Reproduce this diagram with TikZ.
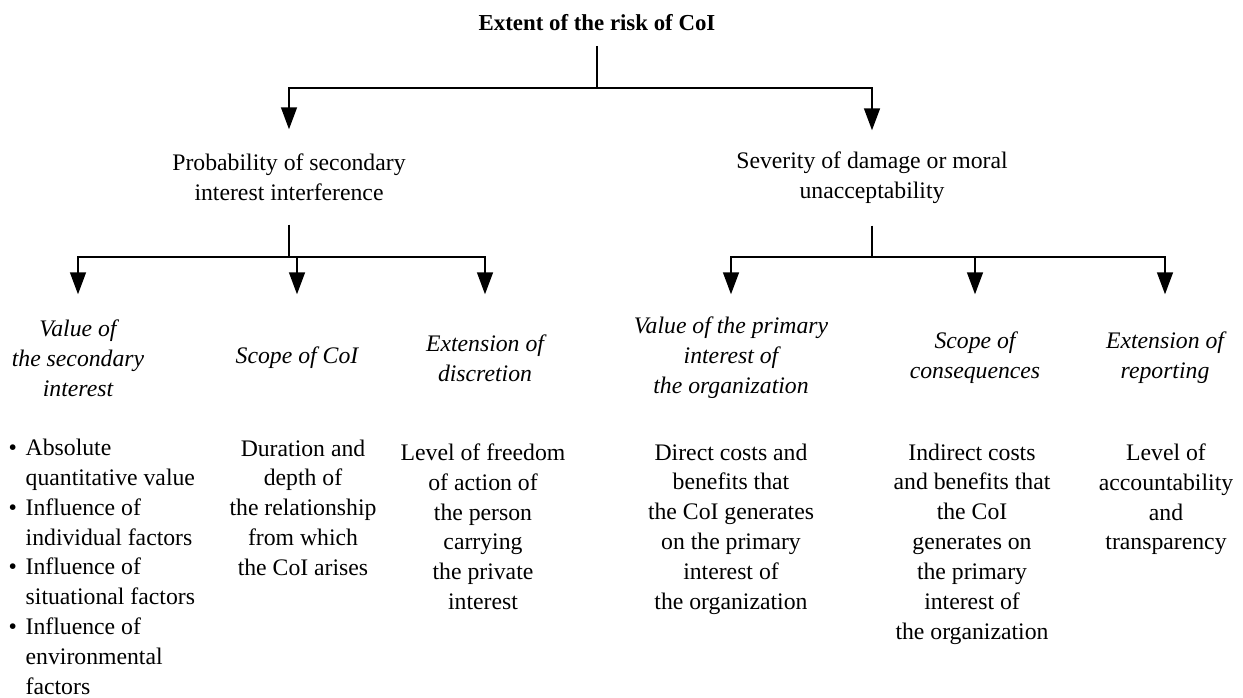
\documentclass[tikz,border=0pt]{standalone}
\usepackage{fontspec}
\setmainfont{Liberation Serif}
\usetikzlibrary{arrows.meta}

\begin{document}
\begin{tikzpicture}[x=0.02cm,y=-0.02cm,line width=0.85pt,
  every node/.style={font=\fontsize{13.5}{17}\selectfont},
  head/.style={align=center,minimum height=1.88cm},
  sub/.style={align=center,minimum height=2.52cm,font=\fontsize{13.5}{17}\selectfont\itshape},
  body/.style={align=center,anchor=north},
  arr/.style={-{Triangle[length=0.44cm,width=0.32cm]}}]
\useasboundingbox (0,0) rectangle (1243,697);

\node [font=\fontsize{13}{17}\selectfont\bfseries,outer sep=5pt] (risk) at (597,23) {Extent of the risk of CoI};

\node [head] (prob) at (289,177) {Probability of secondary\\interest interference};
\node [head] (sev) at (872,178) {Severity of damage or moral\\unacceptability};

\node [sub] (val) at (78,358) {Value of\\the secondary\\interest};
\node [sub] (scope) at (297,358) {Scope of CoI};
\node [sub] (disc) at (485,358) {Extension of\\discretion};
\node [sub] (prim) at (731,358) {Value of the primary\\interest of\\the organization};
\node [sub] (cons) at (975,358) {Scope of\\consequences};
\node [sub] (rep) at (1165,358) {Extension of\\reporting};

\node [anchor=north west] (valt) at (2,428) {\begin{tabular}{@{}l@{\hspace{5pt}}l@{}}
  \textbullet & Absolute\\
              & quantitative value\\
  \textbullet & Influence of\\
              & individual factors\\
  \textbullet & Influence of\\
              & situational factors\\
  \textbullet & Influence of\\
              & environmental\\
              & factors
  \end{tabular}};
\node [body] (scopet) at (303,433) {Duration and\\depth of\\the relationship\\from which\\the CoI arises};
\node [body] (disct) at (483,437) {Level of freedom\\of action of\\the person\\carrying\\the private\\interest};
\node [body] (primt) at (731,437) {Direct costs and\\benefits that\\the CoI generates\\on the primary\\interest of\\the organization};
\node [body] (const) at (972,437) {Indirect costs\\and benefits that\\the CoI\\generates on\\the primary\\interest of\\the organization};
\node [body] (rept) at (1166,437) {Level of\\accountability\\and\\transparency};

\coordinate (top) at (597,88);
\coordinate (barp) at (289,257);
\coordinate (bars) at (872,257);

\draw (risk) -- (top);
\draw [arr] (top) -| (prob);
\draw [arr] (top) -| (sev);

\draw (prob) -- (barp);
\draw [arr] (barp) -| (val);
\draw [arr] (barp) -| (scope);
\draw [arr] (barp) -| (disc);

\draw (sev) -- (bars);
\draw [arr] (bars) -| (prim);
\draw [arr] (bars) -| (cons);
\draw [arr] (bars) -| (rep);

\end{tikzpicture}
\end{document}
